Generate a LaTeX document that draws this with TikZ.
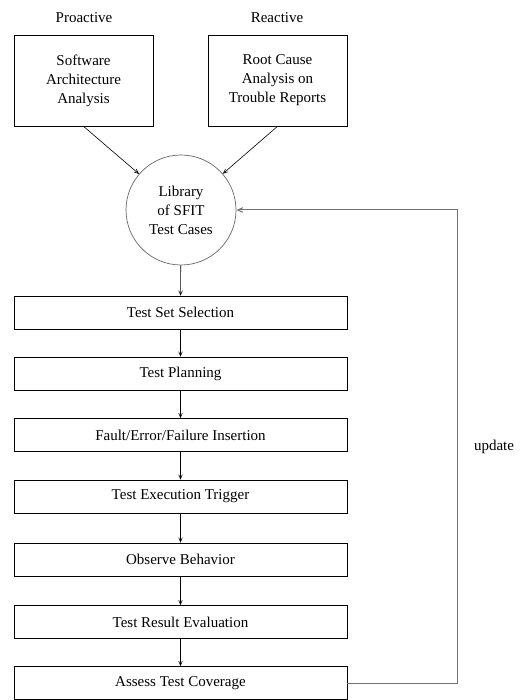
\documentclass[tikz,border=0pt]{standalone}
\usepackage{fontspec}
\setmainfont{Liberation Serif}
\usepackage{tikz}
\usetikzlibrary{positioning}
\usetikzlibrary{arrows}

\tikzset{
    srcbox/.style={draw=black, rectangle, line width=0.7pt, minimum width=139pt, minimum height=91pt, align=center, inner sep=0pt},
    stepbox/.style={draw=black, rectangle, line width=0.7pt, minimum width=333pt, minimum height=33pt, inner sep=0pt},
    libcircle/.style={draw=black!60, circle, line width=0.7pt, minimum size=110pt, align=center, inner sep=0pt},
    flow/.style={->, >=angle 45, line width=0.6pt},
    feedback/.style={->, >=angle 45, draw=black!55, line width=1pt},
}

\begin{document}
\begin{tikzpicture}[x=1pt, y=-1pt, font=\fontsize{15}{19}\selectfont]
        \useasboundingbox (0,0) rectangle (531,700);

        % sources
        \node (labProactive) at (84,18) {Proactive};
        \node (labReactive) at (277,18) {Reactive};
        \node (rectSAA) at (83.5,80.5) [srcbox] {Software\\Architecture\\Analysis};
        \node (rectRCA) at (277.5,80.5) [srcbox] {Root Cause\\Analysis on\\Trouble Reports};

        \node (circLib) at (181,210) [libcircle] {Library\\of SFIT\\Test Cases};
        \draw[flow] (rectSAA.south) -- (circLib);
        \draw[flow] (rectRCA.south) -- (circLib);

        % test steps
        \node (rectSelect) at (180.5,312.5) [stepbox] {Test Set Selection};
        \node (rectPlan) at (180.5,373.5) [stepbox] {Test Planning};
        \node (rectInsert) at (180.5,435) [stepbox] {Fault/Error/Failure Insertion};
        \node (rectTrigger) at (180.5,496.5) [stepbox] {Test Execution Trigger};
        \node (rectObserve) at (180.5,559.5) [stepbox] {Observe Behavior};
        \node (rectEval) at (180.5,622) [stepbox] {Test Result Evaluation};
        \node (rectAssess) at (180.5,683) [stepbox] {Assess Test Coverage};

        \draw[flow] (circLib) -- (rectSelect);
        \draw[flow] (rectSelect) -- (rectPlan);
        \draw[flow] (rectPlan) -- (rectInsert);
        \draw[flow] (rectInsert) -- (rectTrigger);
        \draw[flow] (rectTrigger) -- (rectObserve);
        \draw[flow] (rectObserve) -- (rectEval);
        \draw[flow] (rectEval) -- (rectAssess);

        % feedback loop
        \coordinate (cornerUpdate) at (457,683);
        \draw[feedback] (rectAssess.east) -- (cornerUpdate) |- (circLib.east);
        \node (labUpdate) at (494,447) {update};

    \end{tikzpicture}
\end{document}
